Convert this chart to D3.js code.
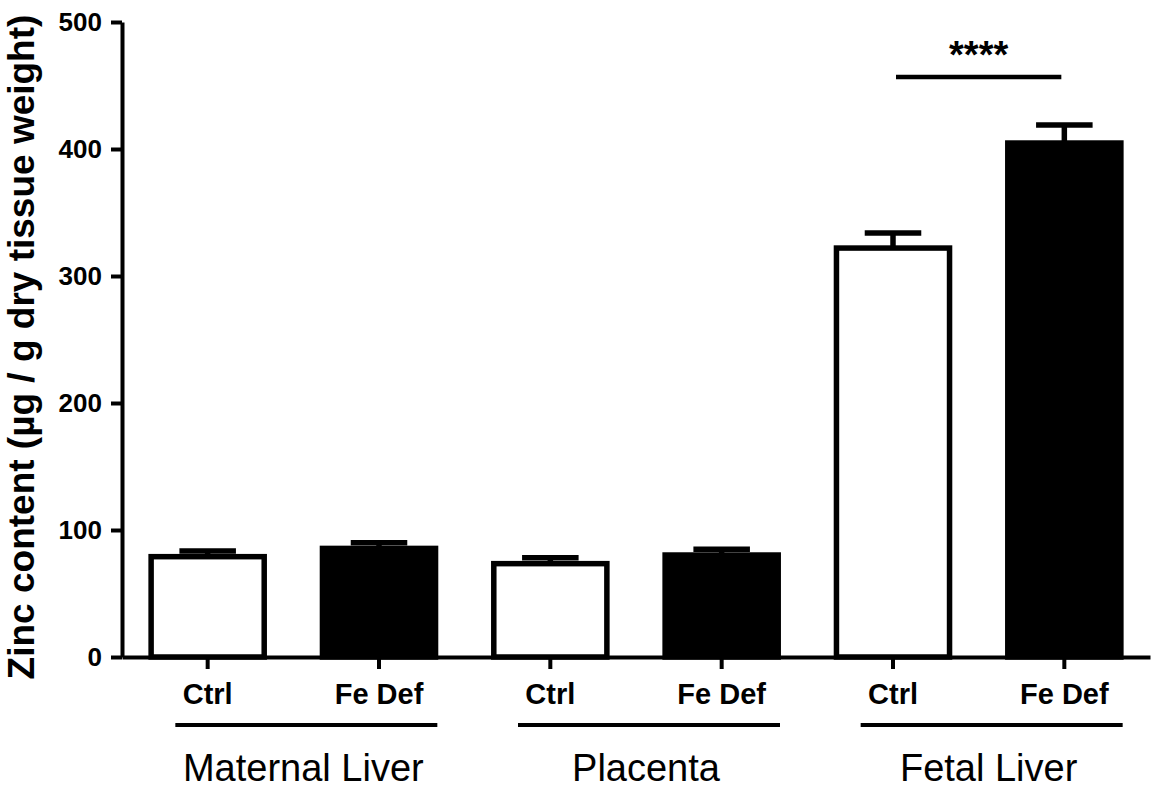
<!DOCTYPE html>
<html>
<head>
<meta charset="utf-8">
<script src="https://cdn.jsdelivr.net/npm/d3@7"></script>
<style>
  html, body { margin: 0; padding: 0; background: #fff; }
  svg { display: block; font-family: "Liberation Sans", Arial, sans-serif; }
</style>
</head>
<body>
<svg id="chart" width="1155" height="788"></svg>
<script>
// Zinc content per tissue, control vs iron-deficient diet (mean and SEM)
const groups = ["Maternal Liver", "Placenta", "Fetal Liver"];
const conditions = ["Ctrl", "Fe Def"];
const means = [79, 85.5, 73.5, 80.3, 322, 404.7];
const sems = [4.5, 4.4, 4.6, 4.6, 11.8, 14.2];
const yTicks = [0, 100, 200, 300, 400, 500];
const yLabel = "Zinc content (µg / g dry tissue weight)";
const significance = { group: "Fetal Liver", label: "****" };

// one entry per bar
const bars = [];
groups.forEach((g, gi) => conditions.forEach((c, ci) => {
  const i = gi * conditions.length + ci;
  bars.push({ key: g + "|" + c, group: g, cond: c, mean: means[i], sem: sems[i] });
}));

const svg = d3.select("#chart");
const plotLeft = 122, plotRight = 1150, plotTop = 22, plotBottom = 657;

const x = d3.scaleBand()
  .domain(bars.map(d => d.key))
  .range([plotLeft, plotRight])
  .paddingInner(0.34)
  .paddingOuter(0.17);

const y = d3.scaleLinear().domain([0, 500]).range([plotBottom, plotTop]);

const lw = 5.5;

// bars
svg.append("g").selectAll("rect")
  .data(bars)
  .join("rect")
  .attr("x", d => x(d.key))
  .attr("y", d => y(d.mean))
  .attr("width", x.bandwidth())
  .attr("height", d => y(0) - y(d.mean))
  .attr("fill", d => d.cond === "Ctrl" ? "#fff" : "#000")
  .attr("stroke", "#000")
  .attr("stroke-width", lw);

// upper error bars
const eb = svg.append("g").attr("stroke", "#000").attr("stroke-width", lw);
eb.selectAll("line.stem")
  .data(bars)
  .join("line")
  .attr("class", "stem")
  .attr("x1", d => x(d.key) + x.bandwidth() / 2)
  .attr("x2", d => x(d.key) + x.bandwidth() / 2)
  .attr("y1", d => y(d.mean))
  .attr("y2", d => y(d.mean + d.sem));
eb.selectAll("line.cap")
  .data(bars)
  .join("line")
  .attr("class", "cap")
  .attr("x1", d => x(d.key) + x.bandwidth() / 4)
  .attr("x2", d => x(d.key) + x.bandwidth() * 3 / 4)
  .attr("y1", d => y(d.mean + d.sem))
  .attr("y2", d => y(d.mean + d.sem));

// y axis
const yAxis = svg.append("g")
  .attr("transform", `translate(${plotLeft},0)`)
  .call(d3.axisLeft(y).tickValues(yTicks).tickSize(11).tickPadding(9).tickSizeOuter(0));
yAxis.select(".domain").attr("stroke", "#000").attr("stroke-width", 4);
yAxis.selectAll(".tick line").attr("stroke", "#000").attr("stroke-width", 4);
yAxis.selectAll(".tick text")
  .attr("font-family", "'Liberation Sans', Arial, sans-serif")
  .attr("font-size", 26).attr("font-weight", "bold").attr("fill", "#000");

// x axis
const xAxis = svg.append("g")
  .attr("transform", `translate(0,${plotBottom})`)
  .call(d3.axisBottom(x).tickSize(12).tickPadding(14).tickSizeOuter(0)
    .tickFormat(k => k.split("|")[1]));
xAxis.select(".domain").attr("stroke", "#000").attr("stroke-width", 4);
xAxis.selectAll(".tick line").attr("stroke", "#000").attr("stroke-width", 4);
xAxis.selectAll(".tick text")
  .attr("font-family", "'Liberation Sans', Arial, sans-serif")
  .attr("font-size", 29).attr("font-weight", "bold").attr("fill", "#000");

// group brackets and names
const groupCenter = g => {
  const a = x(g + "|" + conditions[0]) + x.bandwidth() / 2;
  const b = x(g + "|" + conditions[conditions.length - 1]) + x.bandwidth() / 2;
  return (a + b) / 2;
};
const bracketHalf = 131, bracketShift = 13;
const gl = svg.append("g");
gl.selectAll("line")
  .data(groups)
  .join("line")
  .attr("x1", g => groupCenter(g) + bracketShift - bracketHalf)
  .attr("x2", g => groupCenter(g) + bracketShift + bracketHalf)
  .attr("y1", 725).attr("y2", 725)
  .attr("stroke", "#000").attr("stroke-width", 4);
gl.selectAll("text")
  .data(groups)
  .join("text")
  .attr("x", g => groupCenter(g) + 10)
  .attr("y", 781)
  .attr("text-anchor", "middle")
  .attr("font-size", 38)
  .attr("fill", "#000")
  .text(g => g);

// y axis title
svg.append("text")
  .attr("transform", "translate(34,347) rotate(-90)")
  .attr("text-anchor", "middle")
  .attr("font-size", 37)
  .attr("font-weight", "bold")
  .attr("fill", "#000")
  .text(yLabel);

// significance marker
const sx1 = x(significance.group + "|" + conditions[0]) + x.bandwidth() / 2 + 3;
const sx2 = x(significance.group + "|" + conditions[1]) + x.bandwidth() / 2 - 3;
const sy = 77;
svg.append("line")
  .attr("x1", sx1).attr("x2", sx2).attr("y1", sy).attr("y2", sy)
  .attr("stroke", "#000").attr("stroke-width", 4.5);
svg.append("text")
  .attr("x", (sx1 + sx2) / 2)
  .attr("y", sy - 9)
  .attr("text-anchor", "middle")
  .attr("font-size", 38)
  .attr("font-weight", "bold")
  .attr("fill", "#000")
  .text(significance.label);
</script>
</body>
</html>
